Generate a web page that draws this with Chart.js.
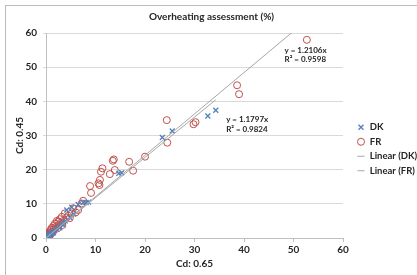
<!DOCTYPE html>
<html lang="en">
<head>
  <meta charset="UTF-8">
  <title>Overheating assessment</title>
  <style>
    body {
      margin: 0;
      background: #fff;
      overflow: hidden;
    }
    #frame {
      position: absolute;
      left: 5px;
      top: 5px;
      width: 440px;
      height: 300px;
      border: 1px solid #bcbcbc;
    }
    #chart-container {
      position: absolute;
      left: 0;
      top: 0;
      width: 417px;
      height: 275px;
    }
  </style>
  <script src="https://cdn.jsdelivr.net/npm/chart.js"></script>
</head>
<body>
  <div id="frame"></div>
  <div id="chart-container">
    <canvas id="scatterChart"></canvas>
  </div>

  <script>
    // values: [Cd 0.65, Cd 0.45]
    const dkX = [34.3, 32.7, 25.5, 23.5, 15.3, 14.7, 8.6, 8.1, 7.5, 6.5, 5.2, 4.2, 5.6, 4.8, 3.9, 3.2, 2.6, 2.1, 1.7, 1.3, 1.0, 0.7, 0.5, 0.3, 0.2, 0.1, 0.0, 0.8, 1.5, 2.8, 3.5, 0.4, 1.1];
    const dkY = [37.4, 35.7, 31.3, 29.4, 19.1, 18.9, 10.5, 10.4, 10.4, 9.8, 9.0, 8.2, 7.0, 6.0, 5.0, 4.1, 3.3, 2.6, 2.1, 1.6, 1.2, 0.9, 0.6, 0.4, 0.2, 0.1, 0.0, 0.6, 1.5, 3.0, 3.9, 0.7, 1.6];

    const frX = [52.7, 38.6, 39.0, 29.8, 30.2, 24.4, 24.5, 20.0, 17.6, 16.8, 13.5, 13.7, 13.9, 12.9, 11.4, 11.1, 10.9, 10.6, 10.8, 8.9, 9.1,
                 7.5, 7.2, 5.5, 5.2, 3.8, 3.2, 2.8, 2.5, 2.2, 1.8, 1.5, 1.2, 1.0, 0.8, 0.6, 0.5, 0.4, 0.3, 0.2, 0.1, 0.0,
                 1.6, 2.0, 2.6, 3.0, 3.5, 4.2, 4.5, 6.0, 6.5, 4.8, 1.3, 0.9, 0.7, 0.2, 0.5, 0.8, 1.1, 2.3, 3.3];
    const frY = [58.0, 44.7, 42.1, 33.3, 33.9, 34.5, 27.9, 23.8, 19.7, 22.3, 22.6, 23.0, 19.9, 18.7, 20.4, 19.4, 17.0, 16.0, 15.5, 15.2, 13.2,
                 10.9, 10.1, 8.7, 7.2, 7.2, 6.2, 5.5, 4.8, 5.0, 4.2, 3.5, 3.0, 2.5, 2.0, 1.6, 1.2, 0.9, 0.6, 0.4, 0.2, 0.0,
                 2.6, 3.2, 3.8, 4.5, 5.0, 6.0, 6.5, 7.5, 8.2, 5.8, 1.8, 1.3, 0.9, 0.8, 0.4, 0.8, 1.4, 2.8, 3.8];

    // trendlines as printed on the chart (through origin)
    const dkSlope = 1.1797;
    const frSlope = 1.2106;
    const dkR2 = 0.9824;
    const frR2 = 0.9598;

    const axisTicks = [0, 10, 20, 30, 40, 50, 60];

    const toPoints = (xs, ys) => xs.map((x, i) => ({ x: x, y: ys[i] }));
    const trend = (xs, slope) => {
      const xMax = Math.max(...xs);
      return [{ x: 0, y: 0 }, { x: xMax, y: slope * xMax }];
    };

    const fontFamily = "Lato, 'Liberation Sans', sans-serif";
    const textColor = '#262626';

    // equation labels, anchored in data units
    const eqLabels = [
      { x: 48.2, y: 55.0, lines: ['y = ' + frSlope.toFixed(4) + 'x', 'R² = ' + frR2.toFixed(4)] },
      { x: 36.4, y: 34.7, lines: ['y = ' + dkSlope.toFixed(4) + 'x', 'R² = ' + dkR2.toFixed(4)] }
    ];

    const eqPlugin = {
      id: 'eqLabels',
      afterDatasetsDraw(chart) {
        const ctx = chart.ctx;
        const xs = chart.scales.x;
        const ys = chart.scales.y;
        ctx.save();
        ctx.font = 'bold 8px ' + fontFamily;
        ctx.fillStyle = textColor;
        ctx.textBaseline = 'middle';
        eqLabels.forEach(l => {
          const px = xs.getPixelForValue(l.x);
          const py = ys.getPixelForValue(l.y);
          l.lines.forEach((t, i) => ctx.fillText(t, px, py + i * 9.5));
        });
        ctx.restore();
      }
    };

    // legend sits a bit right of / below where chart.js puts it
    const legendNudge = {
      id: 'legendNudge',
      afterInit(chart) {
        const lg = chart.legend;
        const fit = lg.fit;
        lg.fit = function () {
          fit.call(this);
          this.width = 72;
        };
      },
      afterLayout(chart) {
        const lg = chart.legend;
        lg.left += 9;
        lg.right += 9;
        lg.top += 9;
        lg.bottom += 9;
      }
    };

    const ctx = document.getElementById('scatterChart').getContext('2d');
    new Chart(ctx, {
      type: 'scatter',
      data: {
        datasets: [
          {
            label: 'DK',
            data: toPoints(dkX, dkY),
            pointStyle: 'crossRot',
            pointRadius: 3.5,
            borderColor: '#4f81bd',
            backgroundColor: '#4f81bd',
            borderWidth: 1.3,
            order: 2
          },
          {
            label: 'FR',
            data: toPoints(frX, frY),
            pointStyle: 'circle',
            pointRadius: 3.5,
            borderColor: '#c0504d',
            backgroundColor: 'rgba(0,0,0,0)',
            borderWidth: 1,
            order: 3
          },
          {
            label: 'Linear (DK)',
            data: trend(dkX, dkSlope),
            showLine: true,
            pointRadius: 0,
            pointStyle: 'line',
            borderColor: '#a6a6a6',
            backgroundColor: '#a6a6a6',
            borderWidth: 1,
            order: 1
          },
          {
            label: 'Linear (FR)',
            data: trend(frX, frSlope),
            showLine: true,
            pointRadius: 0,
            pointStyle: 'line',
            borderColor: '#a6a6a6',
            backgroundColor: '#a6a6a6',
            borderWidth: 1,
            order: 0
          }
        ]
      },
      options: {
        responsive: true,
        maintainAspectRatio: false,
        animation: false,
        layout: {
          padding: { top: 5, left: 8, right: 2, bottom: 0 }
        },
        plugins: {
          title: {
            display: true,
            text: 'Overheating assessment (%)',
            color: textColor,
            font: { family: fontFamily, size: 10, weight: 'bold' },
            padding: { top: 6, bottom: 10 }
          },
          legend: {
            position: 'right',
            labels: {
              usePointStyle: true,
              boxWidth: 8,
              boxHeight: 5,
              padding: 5,
              color: textColor,
              font: { family: fontFamily, size: 9.5, weight: 'bold' },
              sort: (a, b) => a.datasetIndex - b.datasetIndex
            }
          },
          tooltip: { enabled: false }
        },
        scales: {
          x: {
            type: 'linear',
            min: 0,
            max: 60,
            afterBuildTicks: s => { s.ticks = axisTicks.map(v => ({ value: v })); },
            afterFit: s => { s.height = 37; },
            grid: {
              display: true,
              drawOnChartArea: false,
              tickLength: 4,
              color: '#bfbfbf'
            },
            border: { color: '#bfbfbf' },
            ticks: {
              padding: 2,
              color: textColor,
              font: { family: fontFamily, size: 10, weight: 'bold' }
            },
            title: {
              display: true,
              text: 'Cd: 0.65',
              color: textColor,
              font: { family: fontFamily, size: 10, weight: 'bold' },
              padding: { top: 0, bottom: 5 }
            }
          },
          y: {
            type: 'linear',
            min: 0,
            max: 60,
            afterBuildTicks: s => { s.ticks = axisTicks.map(v => ({ value: v })); },
            afterFit: s => { s.width = 38; },
            grid: {
              color: '#d9d9d9',
              lineWidth: 1,
              tickLength: 3
            },
            border: { color: '#bfbfbf' },
            ticks: {
              padding: 6,
              color: textColor,
              font: { family: fontFamily, size: 10, weight: 'bold' }
            },
            title: {
              display: true,
              text: 'Cd: 0.45',
              color: textColor,
              font: { family: fontFamily, size: 10, weight: 'bold' },
              padding: { top: 6, bottom: 0 }
            }
          }
        }
      },
      plugins: [eqPlugin, legendNudge]
    });
  </script>
</body>
</html>
